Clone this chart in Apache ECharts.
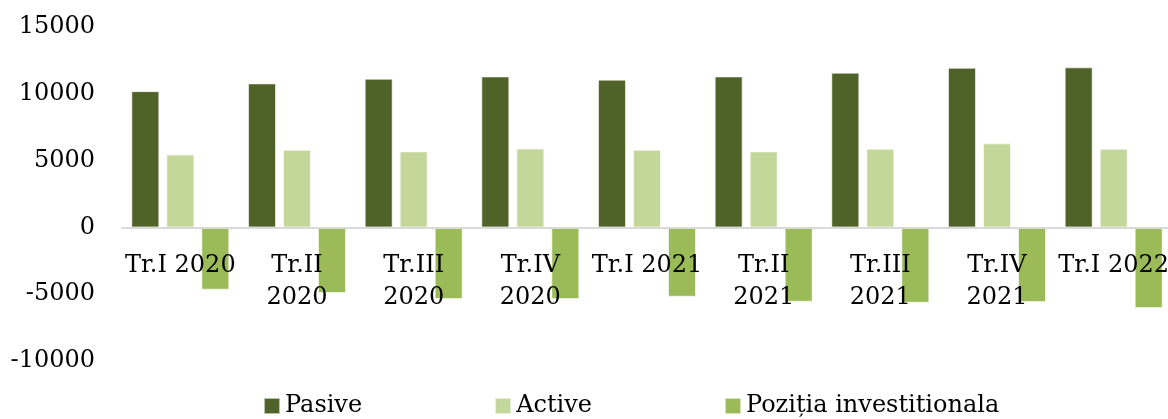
<!DOCTYPE html>
<html>
<head>
<meta charset="utf-8">
<script src="https://cdn.jsdelivr.net/npm/echarts@6/dist/echarts.min.js"></script>
<style>
  html, body { margin: 0; padding: 0; background: #fff; }
  #chart { width: 1168px; height: 419px; }
</style>
</head>
<body>
<div id="chart"></div>
<script>
// categorii (trimestre)
var categories = ["Tr.I 2020", "Tr.II 2020", "Tr.III 2020", "Tr.IV 2020", "Tr.I 2021", "Tr.II 2021", "Tr.III 2021", "Tr.IV 2021", "Tr.I 2022"];
var pasive = [10200, 10780, 11130, 11300, 11060, 11300, 11580, 11950, 11980];
var active = [5460, 5810, 5690, 5900, 5810, 5690, 5890, 6290, 5890];
var pozitia = [-4660, -4915, -5365, -5365, -5190, -5565, -5640, -5590, -6040];
var yTicks = [-10000, -5000, 0, 5000, 10000, 15000];

var font = "DejaVu Serif";
var gridTop = 27, gridBottom = 58, H = 419;
var yMin = yTicks[0], yMax = yTicks[yTicks.length - 1];
// axa categoriilor sta pe linia de zero
var zeroOffset = -(H - gridTop - gridBottom) * (0 - yMin) / (yMax - yMin);

var chart = echarts.init(document.getElementById("chart"));

function barSeries(name, data, color) {
  return {
    name: name,
    type: "bar",
    data: data,
    barWidth: 28,
    barGap: "25%",
    itemStyle: { color: color, borderColor: "rgba(255,255,255,0.6)", borderWidth: 1 }
  };
}

var option = {
  animation: false,
  textStyle: { fontFamily: font },
  legend: {
    left: 263,
    top: 394,
    padding: 0,
    itemGap: 132,
    itemWidth: 16,
    itemHeight: 16,
    icon: "rect",
    selectedMode: false,
    textStyle: { color: "#000", fontSize: 24, fontFamily: font },
    data: ["Pasive", "Active", "Poziția investitionala"]
  },
  grid: {
    left: 122,
    right: -4,
    top: gridTop,
    bottom: gridBottom,
    containLabel: false,
    outerBoundsMode: "none"
  },
  xAxis: {
    type: "category",
    data: categories,
    offset: zeroOffset,
    z: 10,
    axisLine: { show: true, onZero: false, lineStyle: { color: "#D9D9D9", width: 2 } },
    axisTick: { show: false },
    axisLabel: {
      interval: 0,
      margin: 22,
      color: "#000",
      fontSize: 24,
      lineHeight: 32,
      fontFamily: font,
      // doar "Tr.I ..." incape pe un rand
      formatter: function (v) {
        return v.indexOf("Tr.I ") === 0 ? v : v.replace(" ", "\n");
      }
    }
  },
  yAxis: {
    type: "value",
    min: yMin,
    max: yMax,
    interval: 5000,
    axisLine: { show: false },
    axisTick: { show: false },
    splitLine: { show: false },
    axisLabel: {
      color: "#000",
      fontSize: 24,
      fontFamily: font,
      margin: 27,
      formatter: function (v) { return String(v); }
    }
  },
  series: [
    barSeries("Pasive", pasive, "#4F6228"),
    barSeries("Active", active, "#C4D79B"),
    barSeries("Poziția investitionala", pozitia, "#9BBB59")
  ]
};

chart.setOption(option);
</script>
</body>
</html>
